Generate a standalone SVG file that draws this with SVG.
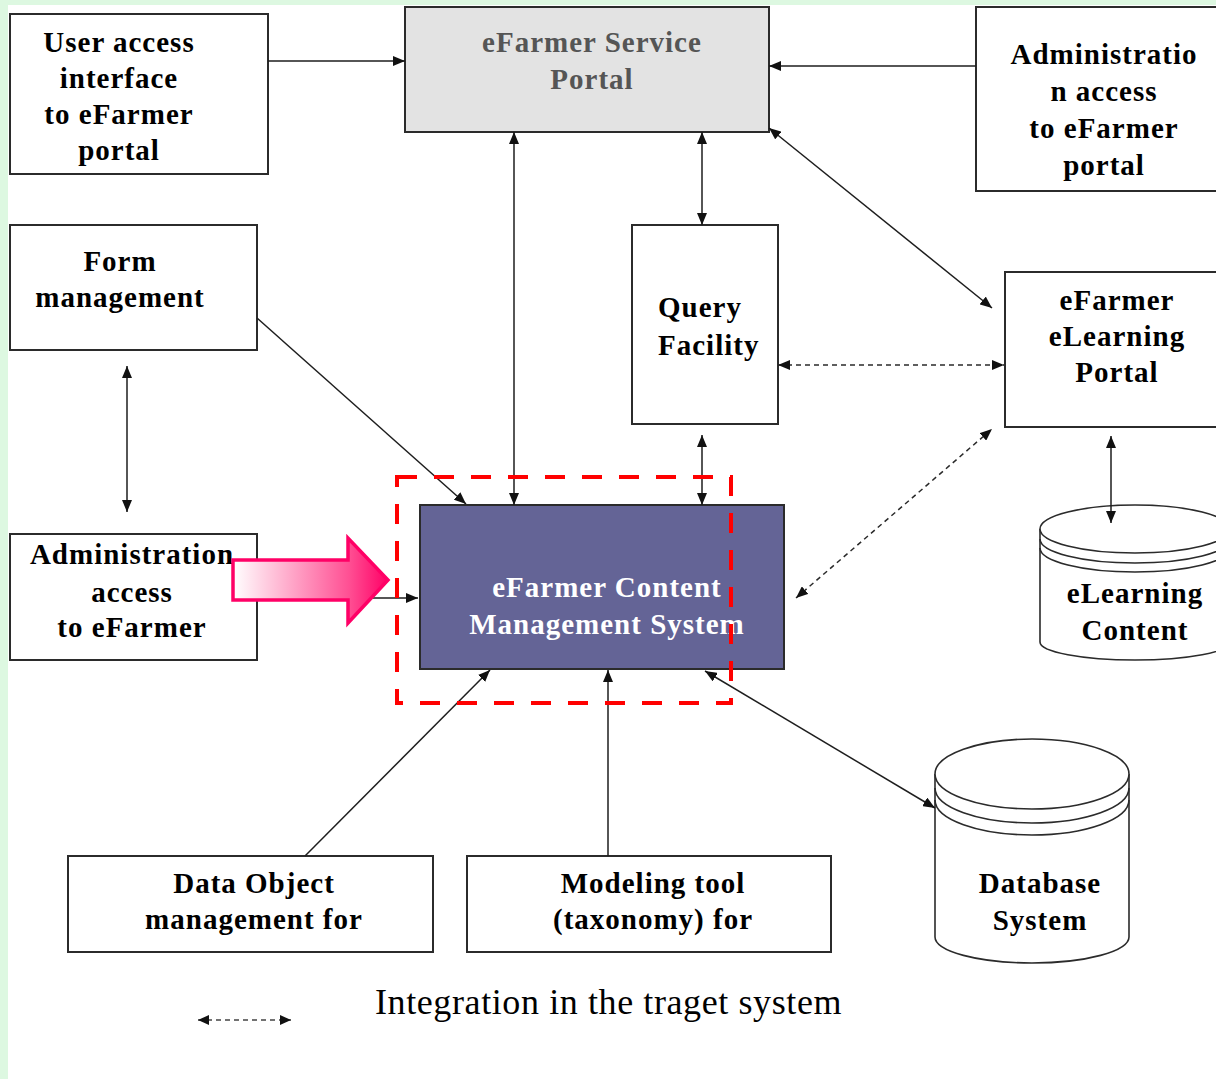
<svg xmlns="http://www.w3.org/2000/svg" width="1216" height="1079" viewBox="0 0 1216 1079">
  <defs>
    <style>
      .box { fill: #ffffff; stroke: #2b2b2b; stroke-width: 2; }
      .lbl { font-family: "Liberation Serif", "Times New Roman", serif; font-weight: bold; font-size: 29px; letter-spacing: 1px; fill: #000; text-anchor: middle; }
      .conn { fill: none; stroke: #1e1e1e; stroke-width: 1.5; }
      .dash { fill: none; stroke: #2a2a2a; stroke-width: 1.5; stroke-dasharray: 5 4; }
      .cyl { fill: #ffffff; stroke: #2b2b2b; stroke-width: 1.6; }
    </style>
    <marker id="ah" viewBox="0 0 12 10" refX="12" refY="5" markerWidth="12" markerHeight="10" markerUnits="userSpaceOnUse" orient="auto-start-reverse">
      <path d="M0,0 L12,5 L0,10 z" fill="#111"/>
    </marker>
    <marker id="ahs" viewBox="0 0 11 10" refX="11" refY="5" markerWidth="11" markerHeight="10" markerUnits="userSpaceOnUse" orient="auto-start-reverse">
      <path d="M0,0 L11,5 L0,10 z" fill="#111"/>
    </marker>
    <linearGradient id="pinkFill" x1="0" y1="0" x2="1" y2="0">
      <stop offset="0" stop-color="#ffffff"/>
      <stop offset="0.75" stop-color="#ff4f93"/>
      <stop offset="1" stop-color="#ff0066"/>
    </linearGradient>
  </defs>

  <!-- page -->
  <rect x="0" y="0" width="1216" height="1079" fill="#ffffff"/>
  <rect x="0" y="0" width="8" height="1079" fill="#ddf8e1"/>
  <rect x="0" y="0" width="1216" height="5" fill="#ddf8e1"/>

  <!-- nodes -->
  <g id="user-access">
    <rect class="box" x="10" y="14" width="258" height="160"/>
    <text class="lbl" x="119" y="52">User access</text>
    <text class="lbl" x="119" y="88">interface</text>
    <text class="lbl" x="119" y="124">to eFarmer</text>
    <text class="lbl" x="119" y="160">portal</text>
  </g>

  <g id="service-portal">
    <rect class="box" x="405" y="7" width="364" height="125" style="fill:#e3e3e3"/>
    <text class="lbl" x="592" y="52" style="fill:#555555">eFarmer Service</text>
    <text class="lbl" x="592" y="89" style="fill:#555555">Portal</text>
  </g>

  <g id="admin-portal-access">
    <rect class="box" x="976" y="7" width="260" height="184"/>
    <text class="lbl" x="1104" y="64">Administratio</text>
    <text class="lbl" x="1104" y="101">n access</text>
    <text class="lbl" x="1104" y="138">to eFarmer</text>
    <text class="lbl" x="1104" y="175">portal</text>
  </g>

  <g id="form-management">
    <rect class="box" x="10" y="225" width="247" height="125"/>
    <text class="lbl" x="120" y="271">Form</text>
    <text class="lbl" x="120" y="307">management</text>
  </g>

  <g id="query-facility">
    <rect class="box" x="632" y="225" width="146" height="199"/>
    <text class="lbl" x="658" y="317" style="text-anchor:start">Query</text>
    <text class="lbl" x="658" y="355" style="text-anchor:start">Facility</text>
  </g>

  <g id="elearning-portal">
    <rect class="box" x="1005" y="272" width="230" height="155"/>
    <text class="lbl" x="1117" y="310">eFarmer</text>
    <text class="lbl" x="1117" y="346">eLearning</text>
    <text class="lbl" x="1117" y="382">Portal</text>
  </g>

  <g id="admin-access">
    <rect class="box" x="10" y="534" width="247" height="126"/>
    <text class="lbl" x="132" y="564">Administration</text>
    <text class="lbl" x="132" y="602">access</text>
    <text class="lbl" x="132" y="637">to eFarmer</text>
  </g>

  <g id="content-management-system">
    <rect class="box" x="420" y="505" width="364" height="164" style="fill:#646496"/>
    <text class="lbl" x="607" y="597" style="fill:#ffffff">eFarmer Content</text>
    <text class="lbl" x="607" y="634" style="fill:#ffffff">Management System</text>
  </g>

  <g id="elearning-content">
    <path class="cyl" d="M1040,529 L1040,642 A95,18 0 0 0 1230,642 L1230,529"/>
    <ellipse class="cyl" cx="1135" cy="529" rx="95" ry="24"/>
    <path class="cyl" style="fill:none" d="M1040,539 A95,24 0 0 0 1230,539"/>
    <path class="cyl" style="fill:none" d="M1040,548 A95,24 0 0 0 1230,548"/>
    <text class="lbl" x="1135" y="603">eLearning</text>
    <text class="lbl" x="1135" y="640">Content</text>
  </g>

  <g id="database-system">
    <path class="cyl" d="M935,774 L935,937 A97,26 0 0 0 1129,937 L1129,774"/>
    <ellipse class="cyl" cx="1032" cy="774" rx="97" ry="35"/>
    <path class="cyl" style="fill:none" d="M935,788 A97,35 0 0 0 1129,788"/>
    <path class="cyl" style="fill:none" d="M935,800 A97,35 0 0 0 1129,800"/>
    <text class="lbl" x="1040" y="893">Database</text>
    <text class="lbl" x="1040" y="930">System</text>
  </g>

  <g id="data-object-management">
    <rect class="box" x="68" y="856" width="365" height="96"/>
    <text class="lbl" x="254" y="893">Data Object</text>
    <text class="lbl" x="254" y="929">management for</text>
  </g>

  <g id="modeling-tool">
    <rect class="box" x="467" y="856" width="364" height="96"/>
    <text class="lbl" x="653" y="893">Modeling tool</text>
    <text class="lbl" x="653" y="929">(taxonomy) for</text>
  </g>

  <!-- connectors -->
  <g id="connectors">
    <line class="conn" x1="268" y1="61" x2="405" y2="61" marker-end="url(#ah)"/>
    <line class="conn" x1="976" y1="66" x2="769" y2="66" marker-end="url(#ah)"/>
    <line class="conn" x1="769" y1="128" x2="992" y2="308" marker-start="url(#ah)" marker-end="url(#ah)"/>
    <line class="conn" x1="514" y1="132" x2="514" y2="505" marker-start="url(#ah)" marker-end="url(#ah)"/>
    <line class="conn" x1="702" y1="132" x2="702" y2="225" marker-start="url(#ah)" marker-end="url(#ah)"/>
    <line class="conn" x1="702" y1="435" x2="702" y2="505" marker-start="url(#ah)" marker-end="url(#ah)"/>
    <line class="conn" x1="257" y1="318" x2="466" y2="504" marker-end="url(#ah)"/>
    <line class="conn" x1="127" y1="366" x2="127" y2="512" marker-start="url(#ah)" marker-end="url(#ah)"/>
    <line class="conn" x1="257" y1="598" x2="418" y2="598" marker-end="url(#ah)"/>
    <line class="dash" x1="778" y1="365" x2="1004" y2="365" marker-start="url(#ah)" marker-end="url(#ah)"/>
    <line class="dash" x1="796" y1="598" x2="992" y2="429" marker-start="url(#ah)" marker-end="url(#ah)"/>
    <line class="conn" x1="1111" y1="436" x2="1111" y2="523" marker-start="url(#ah)" marker-end="url(#ah)"/>
    <line class="conn" x1="305" y1="856" x2="490" y2="670" marker-end="url(#ah)"/>
    <line class="conn" x1="608" y1="856" x2="608" y2="670" marker-end="url(#ah)"/>
    <line class="conn" x1="705" y1="671" x2="935" y2="808" marker-start="url(#ah)" marker-end="url(#ah)"/>
  </g>

  <!-- highlighted scope and pointer -->
  <g id="integration-scope">
    <rect x="397" y="477" width="334" height="226" fill="none" stroke="#ff0000" stroke-width="4" stroke-dasharray="20 17"/>
  </g>

  <g id="focus-arrow">
    <polygon points="233,560 348,560 348,538 388,580 348,623 348,600 233,600" fill="url(#pinkFill)" stroke="#ff0066" stroke-width="3.5" stroke-linejoin="miter"/>
  </g>

  <!-- legend -->
  <g id="legend">
    <line class="dash" x1="198" y1="1020" x2="291" y2="1020" style="stroke:#444" marker-start="url(#ahs)" marker-end="url(#ahs)"/>
    <text x="375" y="1014" font-family="'Liberation Serif', 'Times New Roman', serif" font-size="36" letter-spacing="0.6" fill="#000">Integration in the traget system</text>
  </g>
</svg>
